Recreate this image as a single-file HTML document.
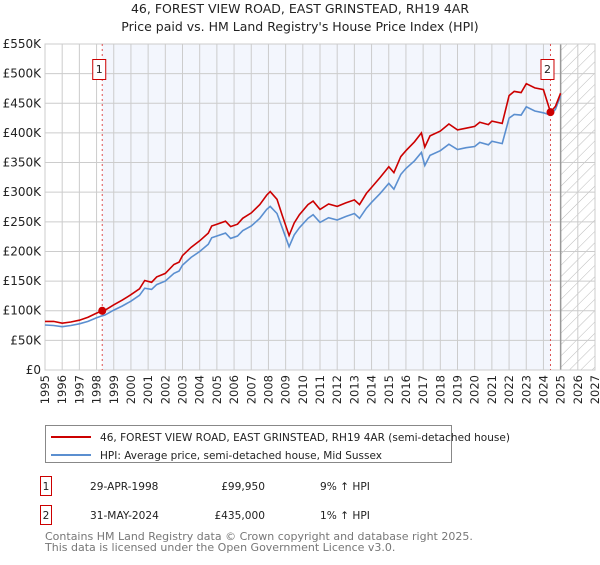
<!DOCTYPE html>
<html><head><meta charset="utf-8"><style>
body{margin:0;background:#fff;font-family:"Liberation Sans","DejaVu Sans",sans-serif;}
svg text{font-family:"DejaVu Sans","Liberation Sans",sans-serif;}
</style></head><body>
<svg id="c" width="600" height="560" xmlns="http://www.w3.org/2000/svg">
<defs><pattern id="hatch" width="8" height="8" patternUnits="userSpaceOnUse" patternTransform="rotate(45)"><line x1="0" y1="0" x2="0" y2="8" stroke="#bbb" stroke-width="1"/></pattern></defs>
<text x="300" y="13" text-anchor="middle" font-size="12.5" fill="#222">46, FOREST VIEW ROAD, EAST GRINSTEAD, RH19 4AR</text>
<text x="300" y="31" text-anchor="middle" font-size="12.5" fill="#222">Price paid vs. HM Land Registry's House Price Index (HPI)</text>
<g id="plot"></g>
<g>
<rect x="45.5" y="425.5" width="406" height="37" fill="#fff" stroke="#888"/>
<line x1="51" y1="437" x2="91" y2="437" stroke="#cc0000" stroke-width="2"/>
<text x="100" y="441" font-size="10.6" fill="#222" textLength="410" lengthAdjust="spacingAndGlyphs">46, FOREST VIEW ROAD, EAST GRINSTEAD, RH19 4AR (semi-detached house)</text>
<line x1="51" y1="455" x2="91" y2="455" stroke="#5b8fd0" stroke-width="2"/>
<text x="100" y="459" font-size="10.6" fill="#222" textLength="282" lengthAdjust="spacingAndGlyphs">HPI: Average price, semi-detached house, Mid Sussex</text>
</g>
<g font-size="10.6" fill="#222">
<rect x="40.5" y="476.5" width="11" height="19" fill="#fff" stroke="#c00"/>
<text x="46" y="490" text-anchor="middle">1</text>
<text x="90" y="490">29-APR-1998</text>
<text x="265" y="490" text-anchor="end">£99,950</text>
<text x="320" y="490">9% ↑ HPI</text>
<rect x="40.5" y="505.5" width="11" height="19" fill="#fff" stroke="#c00"/>
<text x="46" y="519" text-anchor="middle">2</text>
<text x="90" y="519">31-MAY-2024</text>
<text x="265" y="519" text-anchor="end">£435,000</text>
<text x="320" y="519">1% ↑ HPI</text>
</g>
<text x="45" y="540" font-size="11" fill="#777">Contains HM Land Registry data © Crown copyright and database right 2025.</text>
<text x="45" y="551" font-size="11" fill="#777">This data is licensed under the Open Government Licence v3.0.</text>
</svg>
<script>
const years=[1995,1995.5,1996,1996.5,1997,1997.5,1998,1998.33,1998.5,1999,1999.5,2000,2000.5,2000.8,2001.2,2001.5,2002,2002.5,2002.8,2003,2003.5,2004,2004.5,2004.7,2005,2005.5,2005.8,2006.2,2006.5,2007,2007.5,2007.9,2008.1,2008.5,2008.8,2009.2,2009.5,2009.8,2010.3,2010.6,2011,2011.5,2012,2012.5,2013,2013.3,2013.7,2014,2014.5,2015,2015.3,2015.7,2016,2016.5,2016.9,2017.1,2017.4,2018,2018.5,2019,2019.5,2020,2020.3,2020.8,2021,2021.6,2022,2022.3,2022.7,2023,2023.5,2024,2024.41,2024.7,2025];
const hpi=[76,75,73,75,78,82,88,91.5,93,101,108,116,126,138,136,144,150,163,167,177,190,200,212,223,226,231,222,226,235,243,256,271,276,264,240,208,228,240,256,262,249,257,253,259,264,256,273,283,298,315,305,330,340,353,367,345,362,370,381,372,375,377,384,380,386,382,425,431,430,444,437,434,430,440,463];
const price=[82,82,79,81,84,89,96,99.95,101,110,118,127,137,151,148,157,163,178,182,193,207,218,231,243,246,251,242,246,256,265,279,295,301,288,261,227,248,262,279,285,271,280,276,282,287,279,298,308,325,343,333,360,370,385,400,376,395,403,415,405,408,411,418,414,420,416,463,470,468,483,476,473,435,445,467];
const saleYears=[1998.33,2024.41];
const salePrices=[99.95,435];
const yTicks=[0,50,100,150,200,250,300,350,400,450,500,550];
const yLabels=["£0","£50K","£100K","£150K","£200K","£250K","£300K","£350K","£400K","£450K","£500K","£550K"];
const xTicks=[1995,1996,1997,1998,1999,2000,2001,2002,2003,2004,2005,2006,2007,2008,2009,2010,2011,2012,2013,2014,2015,2016,2017,2018,2019,2020,2021,2022,2023,2024,2025,2026,2027];

const L=45,R=595,T=44,B=370,NS="http://www.w3.org/2000/svg";
const X=y=>L+(y-1995)/32*(R-L);
const Y=v=>B-v/550*(B-T);
const g=document.getElementById('plot');
function mk(t,a,p){const e=document.createElementNS(NS,t);for(const k in a)e.setAttribute(k,a[k]);(p||g).appendChild(e);return e;}
let e;
e=mk('rect',{x:X(saleYears[0]),y:T,width:X(saleYears[1])-X(saleYears[0]),height:B-T,fill:'#f3f6fd'});


e=mk('rect',{x:X(2025),y:T,width:R-X(2025),height:B-T,fill:'url(#hatch)'});


yTicks.forEach((v,i)=>{
 mk('line',{x1:L,x2:R,y1:Y(v),y2:Y(v),stroke:'#ccc','stroke-width':1});
 e=mk('text',{x:L-4,y:Y(v)+4,'text-anchor':'end','font-size':12,fill:'#222'});e.textContent=yLabels[i];
 
 
});
xTicks.forEach(yr=>{
 mk('line',{x1:X(yr),x2:X(yr),y1:T,y2:B,stroke:'#ccc','stroke-width':1});
 e=mk('text',{x:0,y:0,'text-anchor':'end','font-size':11.5,fill:'#222',transform:`translate(${X(yr)+4},${B+5}) rotate(-90)`});e.textContent=yr;
 
 
});
mk('line',{x1:X(2025),x2:X(2025),y1:T,y2:B,stroke:'#999','stroke-width':1.5});
mk('rect',{x:L,y:T,width:R-L,height:B-T,fill:'none',stroke:'#ccc'});
saleYears.forEach((yr,i)=>{
 e=mk('line',{x1:X(yr),x2:X(yr),y1:T,y2:B,stroke:'#e05050','stroke-width':1,'stroke-dasharray':'2,3'});
 
 
});
const pts=a=>a.map((v,i)=>X(years[i]).toFixed(1)+','+Y(v).toFixed(1)).join(' ');
e=mk('polyline',{points:pts(hpi),fill:'none',stroke:'#5b8fd0','stroke-width':1.6});


e=mk('polyline',{points:pts(price),fill:'none',stroke:'#cc0000','stroke-width':1.6});


saleYears.forEach((yr,i)=>{
 e=mk('circle',{cx:X(yr),cy:Y(salePrices[i]),r:4,fill:'#cc0000'});
 
 
 const bx=X(yr)-10;
 e=mk('rect',{x:bx+0.5,y:59.5,width:13,height:20,fill:'#fff',stroke:'#c00'});
 
 
 e=mk('text',{x:bx+7,y:73,'text-anchor':'middle','font-size':11,fill:'#222'});e.textContent=String(i+1);
});
</script>
</body></html>
